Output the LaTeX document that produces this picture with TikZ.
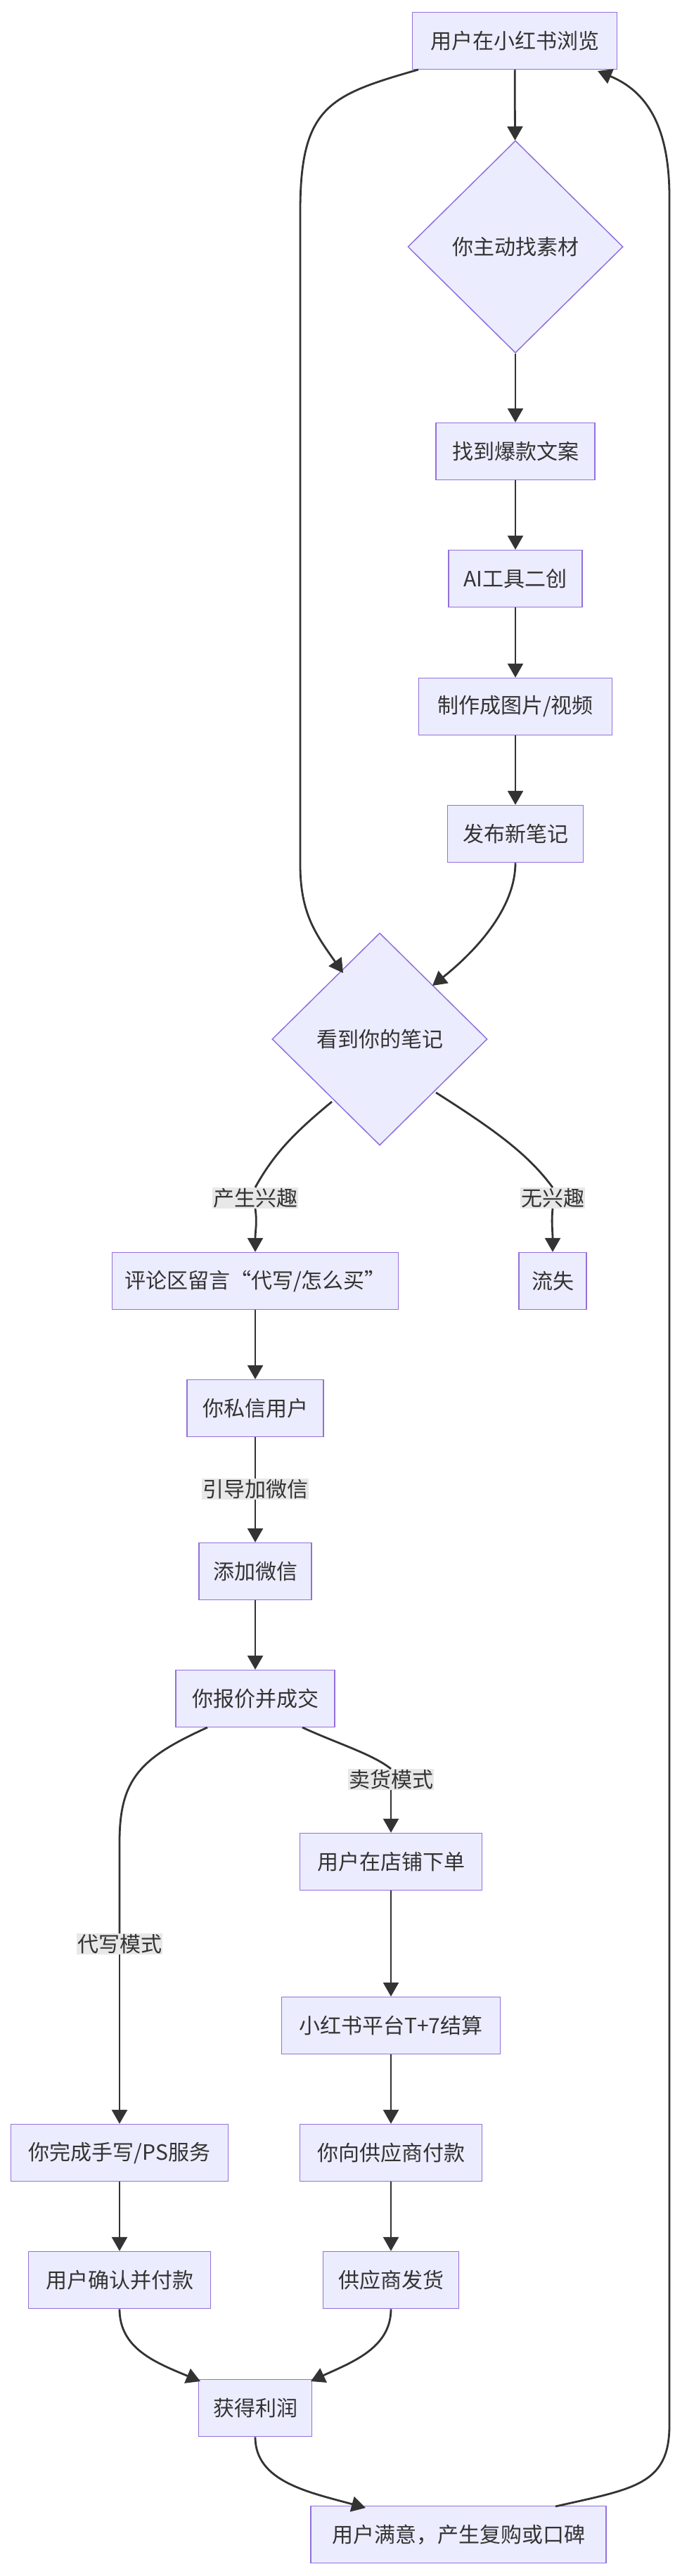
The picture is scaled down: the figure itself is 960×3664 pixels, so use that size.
\documentclass[tikz,border=0pt]{standalone}
\usepackage{fontspec}
\setmainfont{Noto Sans CJK SC}
\usetikzlibrary{shapes.geometric,arrows.meta}
\definecolor{nfill}{HTML}{ECECFF}
\definecolor{nbord}{HTML}{9370DB}
\definecolor{ink}{HTML}{333333}
\definecolor{lbg}{HTML}{E8E8E8}
\tikzset{
 box/.style={draw=nbord,fill=nfill,line width=1.5pt,minimum height=81pt,inner sep=0pt,text=ink,font=\fontsize{30}{36}\selectfont},
 dia/.style={diamond,draw=nbord,fill=nfill,line width=1.5pt,minimum width=306pt,minimum height=302pt,inner sep=0pt,aspect=1,text=ink,font=\fontsize{30}{36}\selectfont},
 lbl/.style={fill=lbg,text=ink,inner sep=1pt,font=\fontsize{30}{36}\selectfont},
 ar/.style={draw=ink,line width=2.8pt,-{Triangle[length=20pt,width=22pt]}},
 ln/.style={draw=ink,line width=2.8pt}
}
\begin{document}
\begin{tikzpicture}[x=1pt,y=-1pt]
\useasboundingbox (0,0) rectangle (960,3664);
\node[box,minimum width=291pt] (top) at (732,58) {用户在小红书浏览};
\node[dia] (d1) at (733,351) {你主动找素材};
\node[box,minimum width=226pt] (zd) at (733,642) {找到爆款文案};
\node[box,minimum width=190pt] (ai) at (733,823) {AI工具二创};
\node[box,minimum width=275pt] (zz) at (733,1005) {制作成图片/视频};
\node[box,minimum width=193pt] (fb) at (733,1186) {发布新笔记};
\node[dia] (d2) at (540,1478) {看到你的笔记};
\node[box,minimum width=407pt] (pl) at (363,1822) {评论区留言“代写/怎么买”};
\node[box,minimum width=96pt] (ls) at (786,1822) {流失};
\node[box,minimum width=194pt] (sx) at (363,2003) {你私信用户};
\node[box,minimum width=160pt] (wx) at (363,2235) {添加微信};
\node[box,minimum width=226pt] (bj) at (363,2416) {你报价并成交};
\node[box,minimum width=259pt] (dp) at (556,2648) {用户在店铺下单};
\node[box,minimum width=311pt] (t7) at (556,2881) {小红书平台T+7结算};
\node[box,minimum width=259pt] (fk) at (556,3062) {你向供应商付款};
\node[box,minimum width=193pt] (fh) at (556,3243) {供应商发货};
\node[box,minimum width=309pt] (wc) at (170,3062) {你完成手写/PS服务};
\node[box,minimum width=259pt] (qr) at (170,3243) {用户确认并付款};
\node[box,minimum width=161pt] (lr) at (363,3425) {获得利润};
\node[box,minimum width=420pt] (fin) at (652,3605) {用户满意，产生复购或口碑};

\draw[ar] (top) -- (d1);
\draw[ar] (d1) -- (zd);
\draw[ar] (zd) -- (ai);
\draw[ar] (ai) -- (zz);
\draw[ar] (zz) -- (fb);
\coordinate (a1) at (595,99);
\coordinate (a2) at (488,1384);
\draw[ar] (a1) .. controls (470,135) and (427,150) .. (427,300) -- (427,1230) .. controls (427,1300) and (450,1330) .. (a2);
\coordinate (b2) at (615,1402);
\draw[ar] (fb.south) .. controls (733,1290) and (680,1350) .. (b2);
\coordinate (c1) at (472,1567);
\node[lbl] (l1) at (363,1704) {产生兴趣};
\draw[ln] (c1) .. controls (420,1610) and (390,1640) .. (l1.north);
\draw[ar] (l1.south) .. controls (366,1740) and (363,1750) .. (pl.north);
\coordinate (c2) at (620,1554);
\node[lbl] (l2) at (786,1704) {无兴趣};
\draw[ln] (c2) .. controls (700,1605) and (750,1640) .. (l2.north);
\draw[ar] (l2.south) .. controls (784,1740) and (786,1750) .. (ls.north);
\draw[ar] (pl) -- (sx);
\node[lbl] (l3) at (363,2118) {引导加微信};
\draw[ln] (sx) -- (l3);
\draw[ar] (l3) -- (wx);
\draw[ar] (wx) -- (bj);
\coordinate (e1) at (430,2457);
\node[lbl] (l4) at (556,2531) {卖货模式};
\draw[ln] (e1) .. controls (480,2480) and (530,2495) .. (l4.north);
\draw[ar] (l4.south) .. controls (556,2570) and (556,2585) .. (dp.north);
\coordinate (e2) at (295,2457);
\node[lbl] (l5) at (170,2765) {代写模式};
\draw[ln] (e2) .. controls (200,2500) and (170,2530) .. (170,2620) -- (l5.north);
\draw[ar] (l5.south) -- (wc.north);
\draw[ar] (dp) -- (t7);
\draw[ar] (t7) -- (fk);
\draw[ar] (fk) -- (fh);
\draw[ar] (wc) -- (qr);
\coordinate (g1) at (285,3387);
\coordinate (g2) at (442,3387);
\draw[ar] (qr.south) .. controls (170,3340) and (220,3360) .. (g1);
\draw[ar] (fh.south) .. controls (556,3340) and (500,3360) .. (g2);
\coordinate (h1) at (520,3567);
\draw[ar] (lr.south) .. controls (363,3530) and (440,3545) .. (h1);
\coordinate (k1) at (790,3565);
\coordinate (k2) at (850,101);
\draw[ar] (k1) .. controls (900,3540) and (952,3535) .. (952,3450) -- (952,280) .. controls (952,180) and (920,130) .. (k2);
\end{tikzpicture}
\end{document}
